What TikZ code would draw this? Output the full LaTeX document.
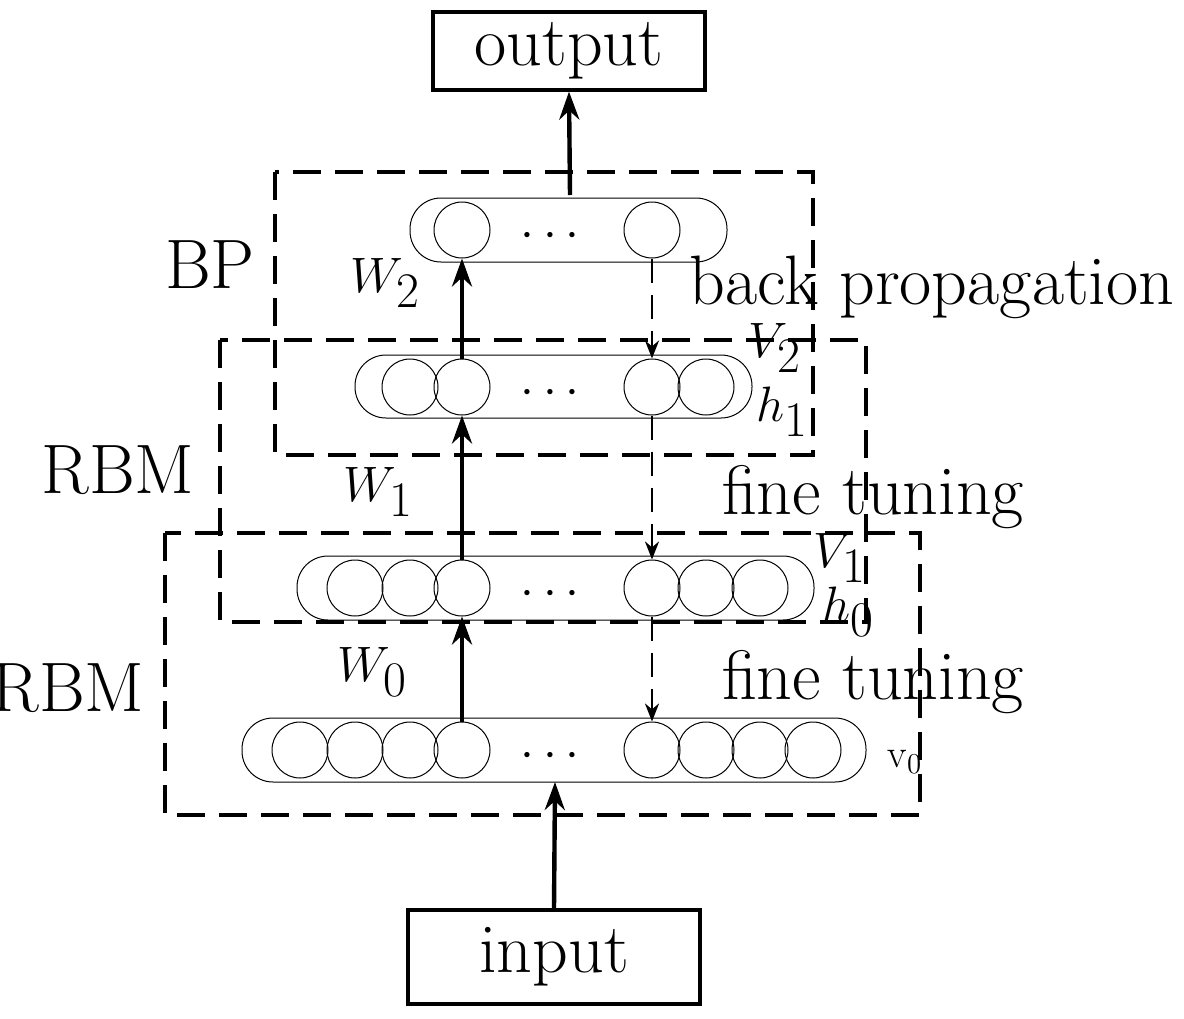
\documentclass[tikz,border=0pt]{standalone}
\usetikzlibrary{arrows.meta}
\begin{document}
\begin{tikzpicture}[x=0.5pt,y=-0.5pt,
 big/.style={font=\fontsize{35}{38}\selectfont, inner sep=0pt},
 dbox/.style={draw, line width=1.6pt, dash pattern=on 14pt off 7pt},
 capsule/.style={draw, line width=0.5pt, rounded corners=15.5pt},
 cell/.style={draw, line width=0.5pt, circle, minimum size=28pt, inner sep=0pt},
 up/.style={line width=2.2pt, -{Stealth[length=14pt,width=10pt]}},
 dn/.style={line width=1.3pt, dash pattern=on 12pt off 6pt, -{Stealth[length=9pt,width=7pt]}},
 box/.style={draw, line width=1.6pt, inner sep=0pt}]
\useasboundingbox (0,0) rectangle (1184,1018);
% boxes
\node[box, minimum width=136pt, minimum height=39pt, big] (out) at (569,51) {output};
\node[box, minimum width=146pt, minimum height=47pt, big] (in) at (554,957) {input};
% dashed frames
\draw[dbox] (275,172) rectangle (813,455);
\draw[dbox] (220,340) rectangle (866,622);
\draw[dbox] (165,533) rectangle (920,815);
% layers
\draw[capsule] (410,198) rectangle (727,262);
\draw[capsule] (355,355) rectangle (752,418);
\draw[capsule] (297,556) rectangle (814,620);
\draw[capsule] (242,718) rectangle (866,782);
\node[cell] (a1) at (462,230) {}; \node[cell] (a2) at (652,230) {};
\foreach \x/\n in {410/b0,462/b1,652/b2,706/b3} \node[cell] (\n) at (\x,387) {};
\foreach \x/\n in {355/c0,410/c00,462/c1,652/c2,706/c3,760/c4} \node[cell] (\n) at (\x,588) {};
\foreach \x/\n in {300/d0,355/d00,410/d000,462/d1,652/d2,706/d3,760/d4,813/d5} \node[cell] (\n) at (\x,750) {};
\foreach \y in {236,393,594,756} \node[big] at (550,\y) {$\cdots$};
% arrows
\coordinate (topout) at (570,195);
\coordinate (botin) at (555,782);
\draw[up] (topout) -- (out.south);
\draw[up] (in.north) -- (botin);
\draw[up] (d1.north) -- (c1.south);
\draw[up] (c1.north) -- (b1.south);
\draw[up] (b1.north) -- (a1.south);
\draw[dn] (a2.south) -- (b2.north);
\draw[dn] (b2.south) -- (c2.north);
\draw[dn] (c2.south) -- (d2.north);
% labels
\node[big] (lbp) at (210,265) {BP};
\node[big] (lr1) at (118,470) {RBM};
\node[big] (lr2) at (68,688) {RBM};
\node[big] (w2) at (385,283) {$W_2$};
\node[big] (w1) at (378,492) {$W_1$};
\node[big] (w0) at (372,672) {$W_0$};
\node[big] (bpl) at (932,287) {back propagation};
\node[big] (ft1) at (873,497) {fine tuning};
\node[big] (ft2) at (873,682) {fine tuning};
\node[big] (v2) at (775,348) {$V_2$};
\node[big] (h1) at (782,412) {$h_1$};
\node[big] (v1) at (840,558) {$V_1$};
\node[big] (h0) at (848,612) {$h_0$};
\node[font=\fontsize{20}{22}\selectfont] (v0) at (905,762) {v$_0$};
\end{tikzpicture}
\end{document}
